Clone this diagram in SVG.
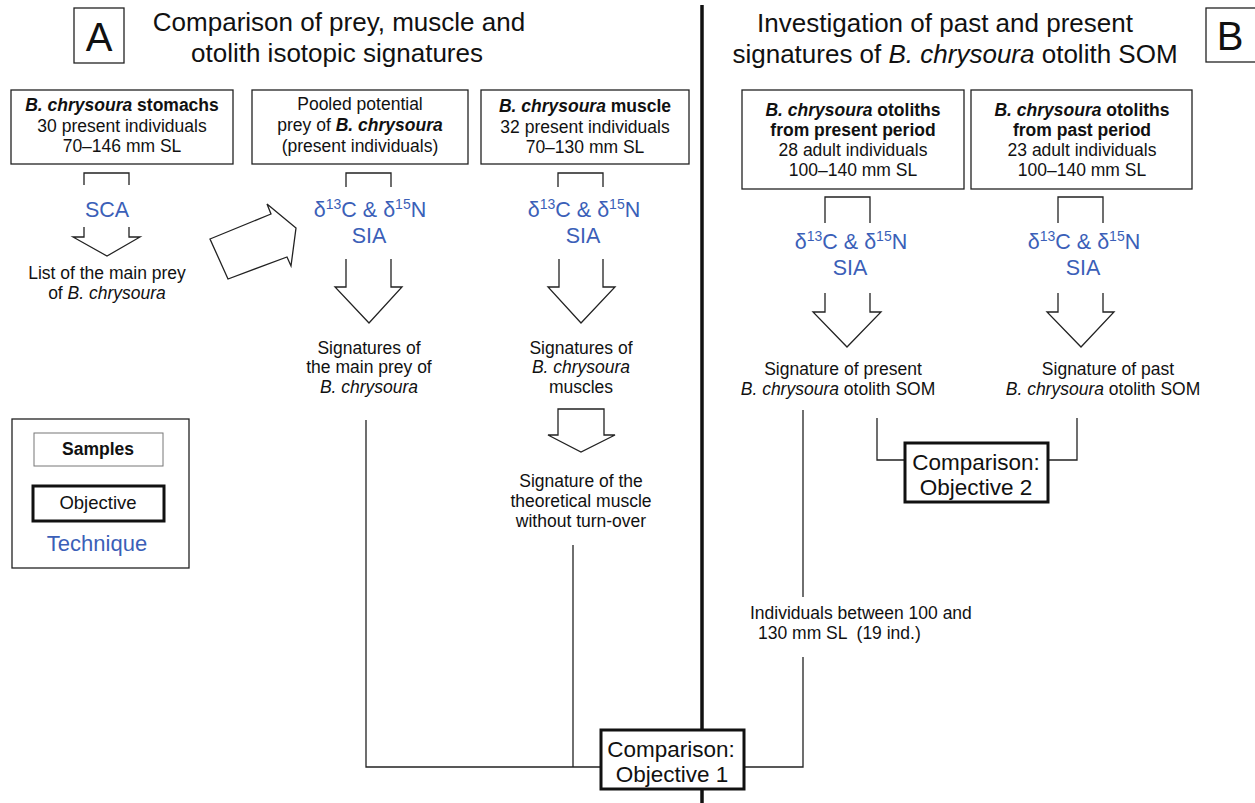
<svg xmlns="http://www.w3.org/2000/svg" width="1255" height="803" viewBox="0 0 1255 803">
<style>
text{font-family:"Liberation Sans",Arial,sans-serif;fill:#111;text-anchor:middle}
.t{font-size:26px}
.b{font-size:17.5px}
.bl{font-size:21.5px;fill:#3b5fb8}
.big{font-size:22.5px}
.box{fill:#fff;stroke:#222;stroke-width:1.3}
.obj{fill:#fff;stroke:#111;stroke-width:3}
.ln{fill:none;stroke:#222;stroke-width:1.3}
.ar{fill:#fff;stroke:#222;stroke-width:1.3;stroke-linejoin:miter}
.sup{font-size:14px}
</style>
<rect width="1255" height="803" fill="#fff"/>
<line x1="702" y1="5" x2="702" y2="803" stroke="#111" stroke-width="3.5"/>

<g id="labelA">
<rect x="74" y="8" width="50" height="55" class="box"/>
<text x="99" y="51" style="font-size:40px">A</text>
</g>
<g id="titleA">
<text x="339" y="31" class="t">Comparison of prey, muscle and</text>
<text x="337" y="62" class="t">otolith isotopic signatures</text>
</g>
<g id="titleB">
<text x="945" y="32" class="t">Investigation of past and present</text>
<text x="955" y="63" class="t">signatures of <tspan font-style="italic">B. chrysoura</tspan> otolith SOM</text>
</g>
<g id="labelB">
<rect x="1206" y="8" width="52" height="54" class="box"/>
<text x="1230" y="50" style="font-size:40px">B</text>
</g>

<g id="connectors">
<polyline class="ln" points="84,185 84,173 129,173 129,185"/>
<polyline class="ln" points="346,187 346,173 391,173 391,187"/>
<polyline class="ln" points="558,187 558,173 603,173 603,187"/>
<polyline class="ln" points="825,223 825,197 870,197 870,223"/>
<polyline class="ln" points="1058,223 1058,197 1103,197 1103,223"/>
<polyline class="ar" points="84,227 84,237 73,237 107,256 140,237 129,237 129,227"/>
<polyline class="ar" points="346,259 346,287 335,287 369,323 402,287 391,287 391,259"/>
<polyline class="ar" points="559,259 559,287 548,287 581,323 615,287 603,287 603,259"/>
<polyline class="ar" points="825,293 825,312 813,312 847,347 881,312 870,312 870,293"/>
<polyline class="ar" points="1058,293 1058,312 1047,312 1081,347 1114,312 1103,312 1103,293"/>
<polygon class="ar" points="558,409 604,409 604,435 615,435 581,452 548,435 558,435"/>
<polygon class="ar" points="210,239 271,214 267,204 296,228 291,266 287,257 228,279"/>
<polyline class="ln" points="366,420 366,767 601,767"/>
<line class="ln" x1="573" y1="545" x2="573" y2="767"/>
<line class="ln" x1="803" y1="410" x2="803" y2="597"/>
<polyline class="ln" points="803,657 803,767 744,767"/>
<polyline class="ln" points="877,418 877,460 905,460"/>
<polyline class="ln" points="1077,418 1077,460 1048,460"/>
</g>

<g id="stomachs">
<rect x="11" y="90" width="222" height="74" class="box"/>
<text x="122" y="111" class="b" font-weight="bold"><tspan font-style="italic">B. chrysoura</tspan> stomachs</text>
<text x="122" y="132" class="b">30 present individuals</text>
<text x="122" y="152" class="b">70–146 mm SL</text>
</g>
<g id="pooled">
<rect x="252" y="90" width="216" height="74" class="box"/>
<text x="360" y="110" class="b">Pooled potential</text>
<text x="360" y="131" class="b">prey of <tspan font-weight="bold" font-style="italic">B. chrysoura</tspan></text>
<text x="360" y="152" class="b">(present individuals)</text>
</g>
<g id="muscle">
<rect x="481" y="90" width="208" height="74" class="box"/>
<text x="585" y="112" class="b" font-weight="bold"><tspan font-style="italic">B. chrysoura</tspan> muscle</text>
<text x="585" y="133" class="b">32 present individuals</text>
<text x="585" y="153" class="b">70–130 mm SL</text>
</g>
<g id="otolithsPresent">
<rect x="742" y="90" width="222" height="99" class="box"/>
<text x="853" y="116" class="b" font-weight="bold"><tspan font-style="italic">B. chrysoura</tspan> otoliths</text>
<text x="853" y="136" class="b" font-weight="bold">from present period</text>
<text x="853" y="156" class="b">28 adult individuals</text>
<text x="853" y="176" class="b">100–140 mm SL</text>
</g>
<g id="otolithsPast">
<rect x="971" y="90" width="221" height="99" class="box"/>
<text x="1082" y="116" class="b" font-weight="bold"><tspan font-style="italic">B. chrysoura</tspan> otoliths</text>
<text x="1082" y="136" class="b" font-weight="bold">from past period</text>
<text x="1082" y="156" class="b">23 adult individuals</text>
<text x="1082" y="176" class="b">100–140 mm SL</text>
</g>

<g id="sca"><text x="107" y="217" class="bl">SCA</text></g>
<g id="sia1">
<text x="370" y="217" class="bl">δ<tspan class="sup" dy="-8">13</tspan><tspan dy="8">C &amp; δ</tspan><tspan class="sup" dy="-8">15</tspan><tspan dy="8">N</tspan></text>
<text x="369" y="243" class="bl">SIA</text>
</g>
<g id="sia2">
<text x="584" y="217" class="bl">δ<tspan class="sup" dy="-8">13</tspan><tspan dy="8">C &amp; δ</tspan><tspan class="sup" dy="-8">15</tspan><tspan dy="8">N</tspan></text>
<text x="583" y="243" class="bl">SIA</text>
</g>
<g id="sia3">
<text x="851" y="249" class="bl">δ<tspan class="sup" dy="-8">13</tspan><tspan dy="8">C &amp; δ</tspan><tspan class="sup" dy="-8">15</tspan><tspan dy="8">N</tspan></text>
<text x="850" y="275" class="bl">SIA</text>
</g>
<g id="sia4">
<text x="1084" y="249" class="bl">δ<tspan class="sup" dy="-8">13</tspan><tspan dy="8">C &amp; δ</tspan><tspan class="sup" dy="-8">15</tspan><tspan dy="8">N</tspan></text>
<text x="1083" y="275" class="bl">SIA</text>
</g>

<g id="listPrey">
<text x="107" y="279" class="b">List of the main prey</text>
<text x="107" y="299" class="b">of <tspan font-style="italic">B. chrysoura</tspan></text>
</g>
<g id="sigPrey">
<text x="369" y="354" class="b">Signatures of</text>
<text x="369" y="373" class="b">the main prey of</text>
<text x="369" y="393" class="b" font-style="italic">B. chrysoura</text>
</g>
<g id="sigMuscle">
<text x="581" y="354" class="b">Signatures of</text>
<text x="581" y="373" class="b" font-style="italic">B. chrysoura</text>
<text x="581" y="393" class="b">muscles</text>
</g>
<g id="sigTheoretical">
<text x="581" y="487" class="b">Signature of the</text>
<text x="581" y="507" class="b">theoretical muscle</text>
<text x="581" y="527" class="b">without turn-over</text>
</g>
<g id="sigPresent">
<text x="843" y="375" class="b">Signature of present</text>
<text x="838" y="395" class="b"><tspan font-style="italic">B. chrysoura</tspan> otolith SOM</text>
</g>
<g id="sigPast">
<text x="1108" y="375" class="b">Signature of past</text>
<text x="1103" y="395" class="b"><tspan font-style="italic">B. chrysoura</tspan> otolith SOM</text>
</g>
<g id="individuals">
<text x="750" y="619" class="b" style="text-anchor:start">Individuals between 100 and</text>
<text x="758" y="639" class="b" style="text-anchor:start;white-space:pre" xml:space="preserve">130 mm SL  (19 ind.)</text>
</g>

<g id="objective2">
<rect x="905" y="443" width="143" height="59" class="obj"/>
<text x="976" y="470" class="big">Comparison:</text>
<text x="976" y="495" class="big">Objective 2</text>
</g>
<g id="objective1">
<rect x="601" y="730" width="143" height="59" class="obj"/>
<text x="671" y="757" class="big">Comparison:</text>
<text x="672" y="782" class="big">Objective 1</text>
</g>

<g id="legend">
<rect x="12" y="419" width="177" height="149" class="box"/>
<rect x="34" y="433" width="129" height="33" fill="#fff" stroke="#777" stroke-width="1"/>
<text x="98" y="455" class="b" font-weight="bold">Samples</text>
<rect x="33" y="486" width="131" height="35" class="obj"/>
<text x="98" y="509" style="font-size:18.5px">Objective</text>
<text x="97" y="551" class="bl" style="font-size:22px">Technique</text>
</g>
</svg>
